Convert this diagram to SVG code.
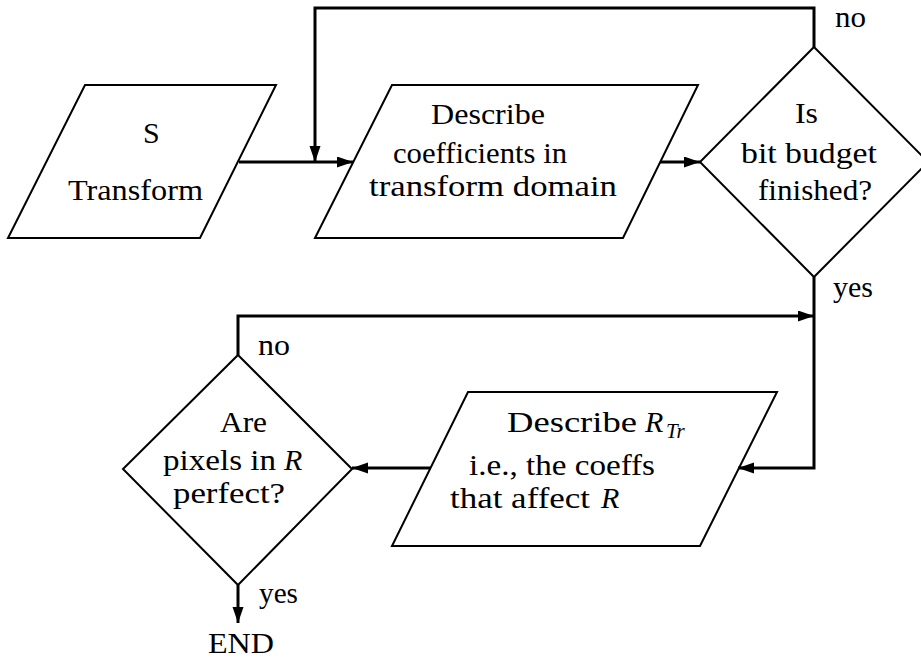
<svg xmlns="http://www.w3.org/2000/svg" width="921" height="662" viewBox="0 0 921 662">
  <style>
    .shape { fill: none; stroke: #000; stroke-width: 2; stroke-linejoin: miter; }
    .wire { fill: none; stroke: #000; stroke-width: 3; }
  </style>
  <defs>
    <marker id="arrow" markerUnits="userSpaceOnUse" markerWidth="17" markerHeight="12" refX="16" refY="5.5" orient="auto">
      <path d="M0,0 L16,5.5 L0,11 z" fill="#000"/>
    </marker>
  </defs>
  <rect x="0" y="0" width="921" height="662" fill="#fff"/>

  <!-- connectors -->
  <g id="connectors">
    <line class="wire" x1="239" y1="162" x2="353" y2="162" marker-end="url(#arrow)"/>
    <polyline class="wire" points="814,47 814,8 315,8 315,162" marker-end="url(#arrow)"/>
    <line class="wire" x1="660" y1="162" x2="700" y2="162" marker-end="url(#arrow)"/>
    <polyline class="wire" points="814,277 814,468 738,468" marker-end="url(#arrow)"/>
    <line class="wire" x1="430" y1="468" x2="352" y2="468" marker-end="url(#arrow)"/>
    <polyline class="wire" points="238,355 238,316 814,316" marker-end="url(#arrow)"/>
    <line class="wire" x1="238" y1="585" x2="238" y2="623" marker-end="url(#arrow)"/>
  </g>

  <!-- S transform input -->
  <g id="s-transform">
    <polygon class="shape" points="85,85 276,85 200,238 8,238"/>
    <text font-family="Liberation Serif" font-size="30" x="143" y="143">S</text>
    <text font-family="Liberation Serif" font-size="30" x="68" y="200" textLength="135" lengthAdjust="spacingAndGlyphs">Transform</text>
  </g>

  <!-- describe coefficients -->
  <g id="describe-coeffs">
    <polygon class="shape" points="392,85 698,85 623,238 315,238"/>
    <text font-family="Liberation Serif" font-size="30" x="431" y="124" textLength="114" lengthAdjust="spacingAndGlyphs">Describe</text>
    <text font-family="Liberation Serif" font-size="30" x="393" y="163" textLength="174" lengthAdjust="spacingAndGlyphs">coefficients in</text>
    <text font-family="Liberation Serif" font-size="30" x="369" y="196" textLength="248" lengthAdjust="spacingAndGlyphs">transform domain</text>
  </g>

  <!-- budget check -->
  <g id="budget-check">
    <polygon class="shape" points="814,47 928,162 814,277 700,162"/>
    <text font-family="Liberation Serif" font-size="30" x="795" y="123" textLength="23" lengthAdjust="spacingAndGlyphs">Is</text>
    <text font-family="Liberation Serif" font-size="30" x="741" y="163" textLength="136" lengthAdjust="spacingAndGlyphs">bit budget</text>
    <text font-family="Liberation Serif" font-size="30" x="758" y="200" textLength="114" lengthAdjust="spacingAndGlyphs">finished?</text>
  </g>

  <!-- describe R_Tr -->
  <g id="describe-rtr">
    <polygon class="shape" points="468,392 777,392 700,546 392,546"/>
    <text font-family="Liberation Serif" font-size="30" x="507" y="432" textLength="130" lengthAdjust="spacingAndGlyphs">Describe</text>
    <text font-family="Liberation Serif" font-size="30" font-style="italic" x="645" y="432">R</text>
    <text font-family="Liberation Serif" font-size="21" font-style="italic" x="666" y="438">Tr</text>
    <text font-family="Liberation Serif" font-size="30" x="469" y="475" textLength="186" lengthAdjust="spacingAndGlyphs">i.e., the coeffs</text>
    <text font-family="Liberation Serif" font-size="30" x="450" y="508" textLength="140" lengthAdjust="spacingAndGlyphs">that affect</text>
    <text font-family="Liberation Serif" font-size="30" font-style="italic" x="601" y="508">R</text>
  </g>

  <!-- pixel check -->
  <g id="pixel-check">
    <polygon class="shape" points="238,355 352,469 238,585 123,469"/>
    <text font-family="Liberation Serif" font-size="30" x="220" y="432" textLength="47" lengthAdjust="spacingAndGlyphs">Are</text>
    <text font-family="Liberation Serif" font-size="30" x="163" y="470" textLength="113" lengthAdjust="spacingAndGlyphs">pixels in</text>
    <text font-family="Liberation Serif" font-size="30" font-style="italic" x="284" y="470">R</text>
    <text font-family="Liberation Serif" font-size="30" x="173" y="503" textLength="112" lengthAdjust="spacingAndGlyphs">perfect?</text>
  </g>

  <!-- branch labels -->
  <g id="labels">
    <text font-family="Liberation Serif" font-size="30" x="835" y="27" textLength="31" lengthAdjust="spacingAndGlyphs">no</text>
    <text font-family="Liberation Serif" font-size="30" x="833" y="297" textLength="40" lengthAdjust="spacingAndGlyphs">yes</text>
    <text font-family="Liberation Serif" font-size="30" x="258" y="355" textLength="32" lengthAdjust="spacingAndGlyphs">no</text>
    <text font-family="Liberation Serif" font-size="30" x="259" y="603" textLength="39" lengthAdjust="spacingAndGlyphs">yes</text>
  </g>

  <g id="end">
    <text font-family="Liberation Serif" font-size="30" x="208" y="653" textLength="66" lengthAdjust="spacingAndGlyphs">END</text>
  </g>
</svg>
